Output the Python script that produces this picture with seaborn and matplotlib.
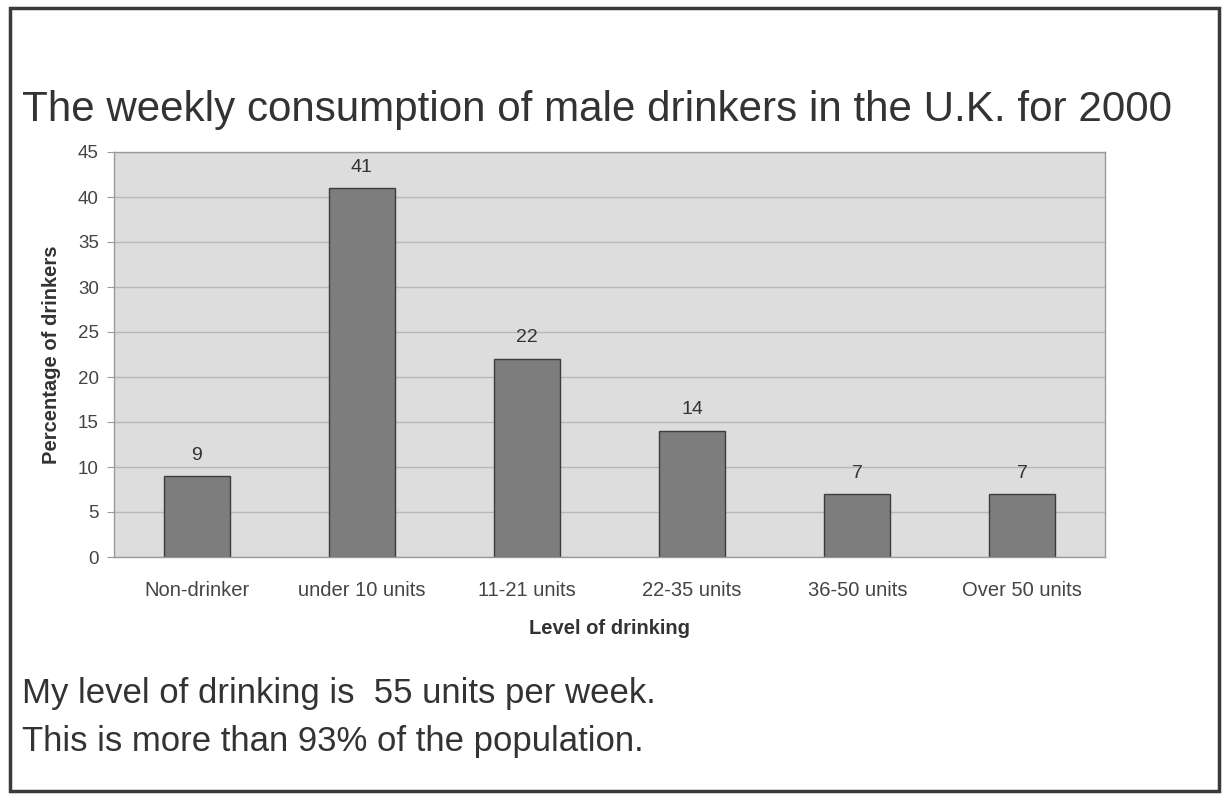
import matplotlib
matplotlib.use("Agg")
import matplotlib.pyplot as plt
from matplotlib.patches import Rectangle
import seaborn as sns
import pandas as pd

categories = ["Non-drinker", "under 10 units", "11-21 units", "22-35 units",
              "36-50 units", "Over 50 units"]
percentages = [9, 41, 22, 14, 7, 7]
y_ticks = [0, 5, 10, 15, 20, 25, 30, 35, 40, 45]

title = "The weekly consumption of male drinkers in the U.K. for 2000"
note_lines = ["My level of drinking is  55 units per week.",
              "This is more than 93% of the population."]

sns.set_style("white")
plt.rcParams["font.family"] = ["Liberation Sans", "DejaVu Sans"]

df = pd.DataFrame({"level": categories, "pct": percentages})

W, H = 1227, 796
fig = plt.figure(figsize=(W / 100, H / 100), dpi=100)
fig.patch.set_facecolor("white")

# outer frame around the whole slide
fig.add_artist(Rectangle((10 / W, 1 - 791 / H), 1209 / W, 783 / H,
                         transform=fig.transFigure, fill=False,
                         edgecolor="#3a3a3a", linewidth=2.5))

ax = fig.add_axes([114 / W, 1 - 557 / H, (1105 - 114) / W, (557 - 152) / H])
ax.set_facecolor("#dddddd")

sns.barplot(data=df, x="level", y="pct", ax=ax, color="#7d7d7d",
            width=0.4, edgecolor="#3c3c3c", linewidth=1.0, saturation=1)

ax.set_ylim(0, 45)
ax.set_xlim(-0.5, len(categories) - 0.5)
ax.set_yticks(y_ticks)
ax.yaxis.grid(True, color="#b8b8b8", linewidth=1.0)
ax.set_axisbelow(True)

for i, v in enumerate(percentages):
    ax.annotate(str(v), (i, v), xytext=(0, 9), textcoords="offset points",
                ha="center", va="bottom", fontsize=14, color="#333333")

for side in ["top", "right", "left", "bottom"]:
    ax.spines[side].set_color("#9a9a9a")
    ax.spines[side].set_linewidth(1.0)

ax.tick_params(axis="y", which="both", length=5, color="#9a9a9a",
               labelsize=13.5, labelcolor="#444444", pad=6, left=True)
ax.tick_params(axis="x", length=0, labelsize=14.5, labelcolor="#444444", pad=17)

ax.set_ylabel("Percentage of drinkers", fontsize=14.5, fontweight="bold",
              color="#333333")
ax.set_xlabel("Level of drinking", fontsize=14.5, fontweight="bold",
              color="#333333")
ax.yaxis.set_label_coords((52 - 114) / (1105 - 114), 0.5)
ax.xaxis.set_label_coords(0.5, -(628 - 557) / (557 - 152))
ax.xaxis.label.set_va("center")
ax.yaxis.label.set_va("center")

fig.text(22 / W, 1 - 110 / H, title, fontsize=30.3, color="#333333",
         ha="left", va="center")
fig.text(22 / W, 1 - 693 / H, note_lines[0], fontsize=25, color="#333333",
         ha="left", va="center")
fig.text(22 / W, 1 - 741 / H, note_lines[1], fontsize=25, color="#333333",
         ha="left", va="center")

fig.savefig("out.png", dpi=100, facecolor="white")
